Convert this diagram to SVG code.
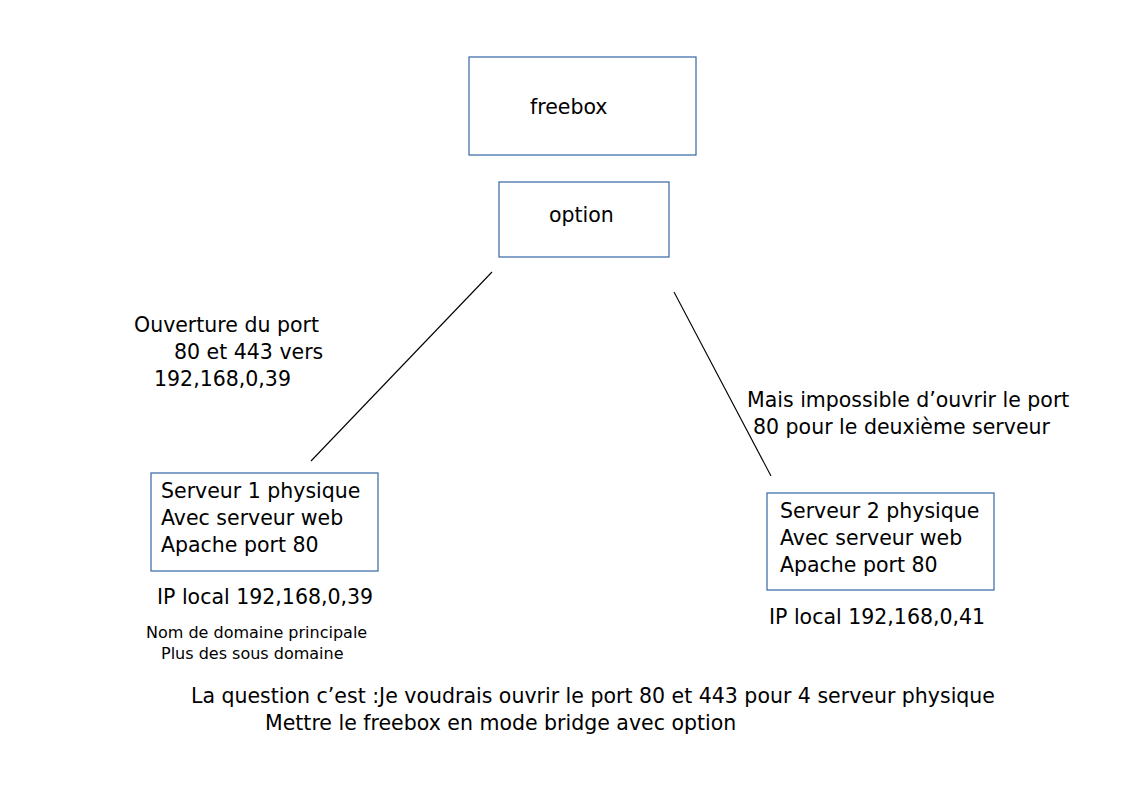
<svg xmlns="http://www.w3.org/2000/svg" width="1123" height="794" viewBox="0 0 1123 794">
<style>
.box{fill:#fff;stroke:#3465a4;stroke-width:1.2}
text{font-family:"DejaVu Sans",sans-serif;font-size:20.5px;fill:#000}
.s{font-size:16px}
.ln{stroke:#000;stroke-width:1.1;fill:none}
</style>
<rect width="1123" height="794" fill="#fff"/>
<g id="freebox"><rect class="box" x="469" y="57" width="227" height="98"/><text x="530" y="114">freebox</text></g>
<g id="option"><rect class="box" x="499" y="182" width="170" height="75"/><text x="549" y="222">option</text></g>
<g id="serveur1"><rect class="box" x="151" y="473" width="227" height="98"/>
<text x="161" y="498">Serveur 1 physique</text><text x="161" y="525">Avec serveur web</text><text x="161" y="552">Apache port 80</text></g>
<g id="serveur2"><rect class="box" x="767" y="493" width="227" height="97"/>
<text x="780" y="518">Serveur 2 physique</text><text x="780" y="545">Avec serveur web</text><text x="780" y="572">Apache port 80</text></g>
<g id="connectors"><line class="ln" x1="492" y1="272" x2="311" y2="461"/><line class="ln" x1="674" y1="292" x2="771" y2="476"/></g>
<text x="134" y="332">Ouverture du port</text>
<text x="174" y="359">80 et 443 vers</text>
<text x="154" y="386">192,168,0,39</text>
<text x="747" y="407">Mais impossible d’ouvrir le port</text>
<text x="753" y="434">80 pour le deuxième serveur</text>
<text x="157" y="604">IP local 192,168,0,39</text>
<text class="s" x="146" y="638">Nom de domaine principale</text>
<text class="s" x="161" y="659">Plus des sous domaine</text>
<text x="769" y="624">IP local 192,168,0,41</text>
<text x="191" y="703">La question c’est :Je voudrais ouvrir le port 80 et 443 pour 4 serveur physique</text>
<text x="265" y="730">Mettre le freebox en mode bridge avec option</text>
</svg>
